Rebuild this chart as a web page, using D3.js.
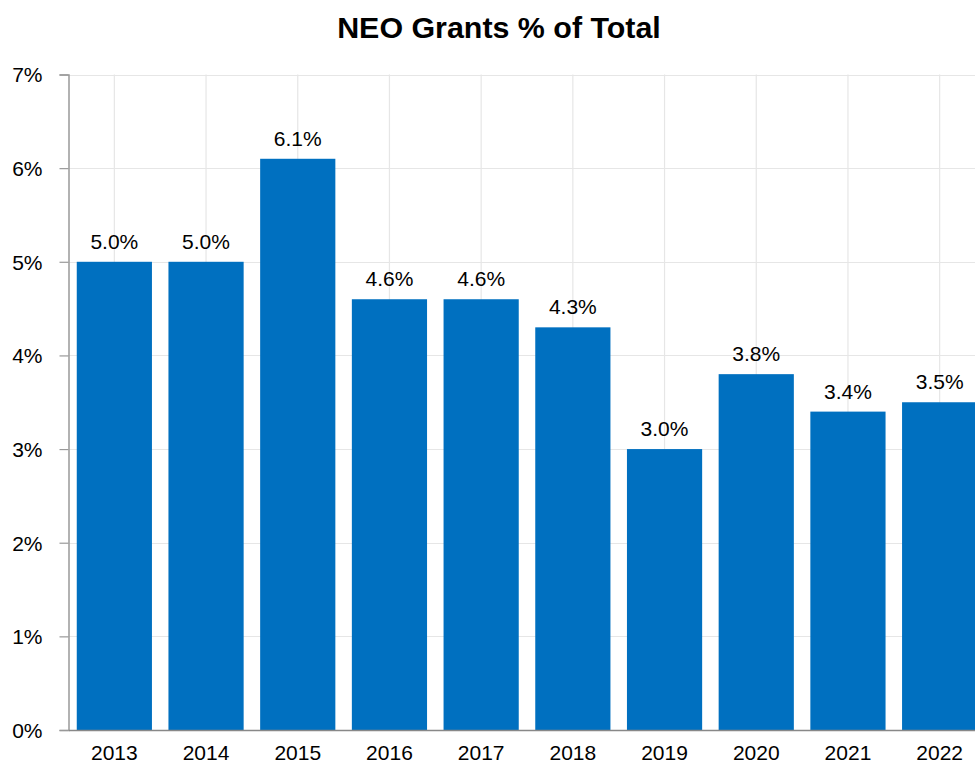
<!DOCTYPE html>
<html>
<head>
<meta charset="utf-8">
<script src="https://cdn.jsdelivr.net/npm/d3@7"></script>
<style>
  html, body { margin: 0; padding: 0; background: #fff; }
  svg { display: block; font-family: "Liberation Sans", Arial, sans-serif; }
</style>
</head>
<body>
<svg id="chart" width="975" height="765"></svg>
<script>
const years = ["2013", "2014", "2015", "2016", "2017", "2018", "2019", "2020", "2021", "2022"];
const values = [5.0, 5.0, 6.1, 4.6, 4.6, 4.3, 3.0, 3.8, 3.4, 3.5];
const yTicks = [0, 1, 2, 3, 4, 5, 6, 7];
const title = "NEO Grants % of Total";

const svg = d3.select("#chart");
const mLeft = 68.5, mTop = 74.5, mBottom = 730, mRight = 985.5;

const x = d3.scaleBand().domain(years).range([mLeft, mRight]).paddingInner(0.18).paddingOuter(0.09);
const y = d3.scaleLinear().domain([0, 7]).range([mBottom, mTop]);

// title
svg.append("text")
  .attr("x", 499).attr("y", 37.7)
  .attr("text-anchor", "middle")
  .attr("font-size", 30.4).attr("font-weight", "bold").attr("fill", "#000")
  .text(title);

// horizontal grid
svg.append("g").selectAll("line").data(yTicks.filter(d => d > 0)).join("line")
  .attr("x1", mLeft).attr("x2", 975)
  .attr("y1", d => Math.round(y(d)) + 0.5).attr("y2", d => Math.round(y(d)) + 0.5)
  .attr("stroke", "#e6e6e6").attr("stroke-width", 1.2);

// vertical grid
svg.append("g").selectAll("line").data(years).join("line")
  .attr("x1", d => x(d) + x.bandwidth() / 2).attr("x2", d => x(d) + x.bandwidth() / 2)
  .attr("y1", mTop).attr("y2", mBottom)
  .attr("stroke", "#e6e6e6").attr("stroke-width", 1.2);

// bars
svg.append("g").selectAll("rect").data(years).join("rect")
  .attr("x", d => x(d))
  .attr("width", x.bandwidth())
  .attr("y", (d, i) => y(values[i]))
  .attr("height", (d, i) => mBottom - y(values[i]))
  .attr("fill", "#0070C0");

// value labels
svg.append("g").selectAll("text").data(years).join("text")
  .attr("x", d => x(d) + x.bandwidth() / 2)
  .attr("y", (d, i) => y(values[i]) - 13)
  .attr("text-anchor", "middle")
  .attr("font-size", 21).attr("fill", "#000")
  .text((d, i) => values[i].toFixed(1) + "%");

// y axis
const yAxis = d3.axisLeft(y).tickValues(yTicks).tickFormat(d => d + "%").tickSize(9).tickPadding(17);
const gy = svg.append("g").attr("transform", `translate(${mLeft},0)`).call(yAxis);
gy.select(".domain").attr("stroke", "#999").attr("stroke-width", 1.5);
gy.selectAll(".tick line").attr("stroke", "#999").attr("stroke-width", 1.2);
gy.selectAll(".tick text").attr("font-size", 21).attr("fill", "#000")
  .attr("font-family", "Liberation Sans, Arial, sans-serif").attr("dy", "0.35em");

// x axis
const xAxis = d3.axisBottom(x).tickSize(0).tickPadding(15);
const gx = svg.append("g").attr("transform", `translate(0,${mBottom})`).call(xAxis);
gx.select(".domain").attr("stroke", "#888").attr("stroke-width", 1.5);
gx.selectAll(".tick text").attr("font-size", 21).attr("fill", "#000")
  .attr("font-family", "Liberation Sans, Arial, sans-serif").attr("dy", "0.71em");
</script>
</body>
</html>
